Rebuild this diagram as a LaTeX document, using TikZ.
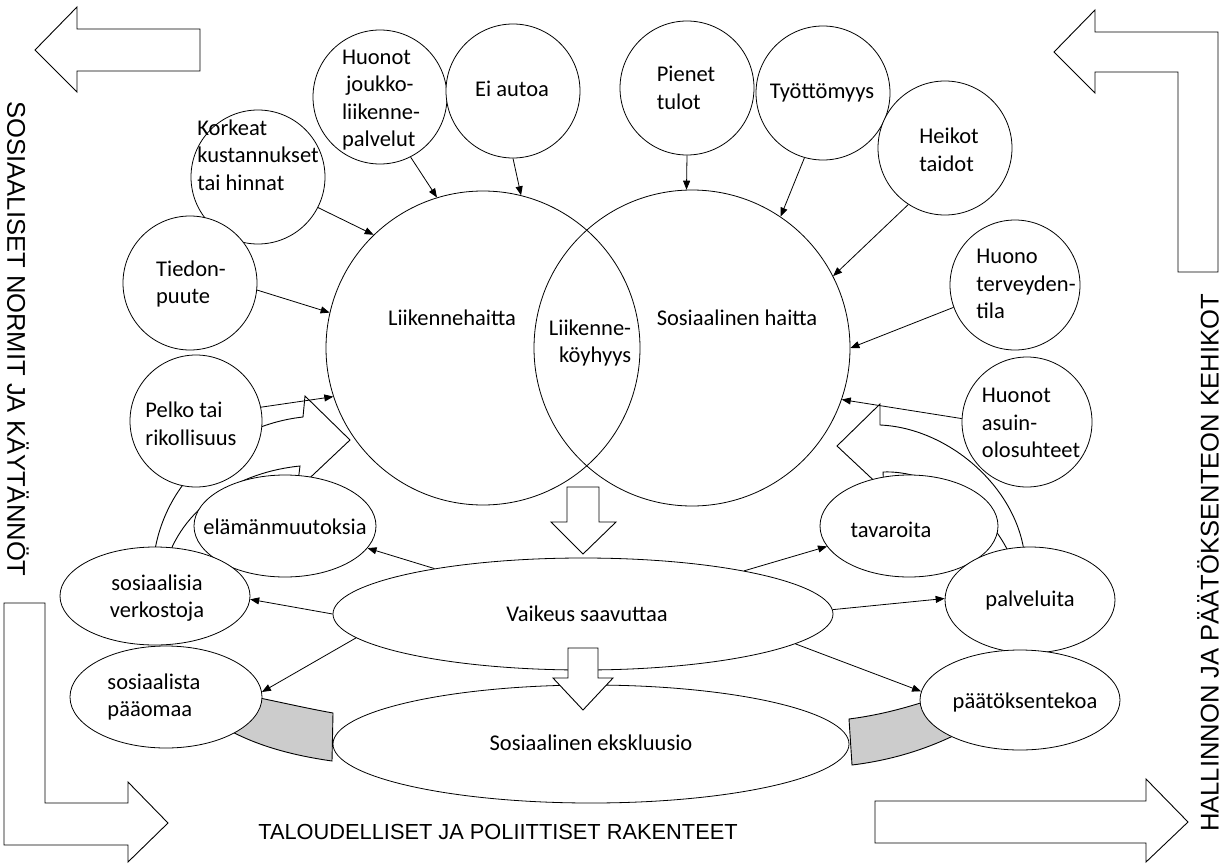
\documentclass[tikz,border=0pt]{standalone}
\usepackage{fontspec}
\setmainfont{Carlito}
\newfontfamily\framefont{Liberation Sans}
\usetikzlibrary{arrows.meta,shapes.geometric}
\begin{document}
\begin{tikzpicture}[x=1pt,y=-1pt,
  bub/.style={circle, draw, fill=white, inner sep=0pt, minimum size=#1, line width=0.8pt},
  big/.style={circle, draw, inner sep=0pt, minimum size=#1, line width=0.8pt},
  ell/.style 2 args={ellipse, draw, fill=white, inner sep=0pt, minimum width=#1, minimum height=#2, line width=0.8pt},
  txt/.style={font=\fontsize{22.5}{27.5}\selectfont, align=left, inner sep=0pt},
  ctxt/.style={font=\fontsize{22.5}{27.5}\selectfont, align=center, inner sep=0pt},
  rtxt/.style={font=\fontsize{22.5}{27.5}\selectfont, align=right, inner sep=0pt},
  conn/.style={-{Triangle[length=9pt,width=7pt]}, line width=0.8pt},
  blk/.style={draw, fill=white, line width=0.9pt, line join=miter},
  grayblk/.style={draw, fill=black!20, line width=0.9pt},
  frametxt/.style={font=\framefont\fontsize{25.6}{30}\selectfont, inner sep=0pt},
  bottomtxt/.style={font=\framefont\fontsize{21.8}{26}\selectfont, inner sep=0pt}
]
\useasboundingbox (0,0) rectangle (1225,864);
\fill[white] (0,0) rectangle (1225,864);

% frame arrows
\draw[blk] (35,50) -- (77,7) -- (77,29) -- (200,29) -- (200,71) -- (77,71) -- (77,92) -- cycle;
\draw[blk] (1054,52) -- (1095,10) -- (1095,32) -- (1218,32) -- (1218,272) -- (1178,272) -- (1178,72) -- (1095,72) -- (1095,93) -- cycle;
\draw[blk] (4,603) -- (45,603) -- (45,803) -- (128,803) -- (128,782) -- (168,823) -- (128,862) -- (128,845) -- (4,845) -- cycle;
\draw[blk] (875,801) -- (1146,801) -- (1146,779) -- (1188,822) -- (1146,862) -- (1146,843) -- (875,843) -- cycle;

\node[frametxt, rotate=-90] (normit) at (18,339) {SOSIAALISET NORMIT JA KÄYTÄNNÖT};
\node[frametxt, rotate=90] (hallinnon) at (1208,563) {HALLINNON JA PÄÄTÖKSENTEON KEHIKOT};
\node[bottomtxt] (rakenteet) at (498,832) {TALOUDELLISET JA POLIITTISET RAKENTEET};

% gray connectors
\draw[grayblk] (245,695) .. controls (280,702) and (305,708) .. (333,713) -- (332,761) .. controls (290,755) and (255,745) .. (225,728) -- cycle;
\draw[grayblk] (849,719) .. controls (880,715) and (905,708) .. (930,700) -- (955,735) .. controls (920,752) and (885,761) .. (852,765) -- cycle;

% curved arrows
\draw[blk] (153,565) .. controls (160,480) and (230,425) .. (303,417) -- (305,396) -- (350,440) -- (297,490) -- (300,466) .. controls (240,472) and (185,505) .. (167,560) -- cycle;
\draw[blk] (1025,560) .. controls (1020,490) and (950,428) .. (880,425) -- (880,404) -- (837,446) -- (884,490) -- (883,472) .. controls (930,470) and (990,505) .. (1012,560) -- cycle;

% big circles
\node[big=314pt] (lh) at (483,348) {};
\node[big=316pt] (sh) at (692,348) {};
\node[ctxt] (lhT) at (452,318) {Liikennehaitta};
\node[ctxt] (shT) at (737,318) {Sosiaalinen haitta};
\node[rtxt] (lensT) at (590,343) {Liikenne-\\köyhyys};

% small circles
\node[bub=134pt] (korkeat) at (258,177) {};
\node[txt] (korkeatT) at (258,155) {Korkeat\\kustannukset\\tai hinnat};
\node[bub=134pt] (joukko) at (380,97) {};
\node[txt] (joukkoT) at (381,100) {Huonot\\\hspace*{4pt}joukko-\\liikenne-\\palvelut};
\node[bub=134pt] (eiauto) at (513,91) {};
\node[txt] (eiautoT) at (512,89) {Ei autoa};
\node[bub=134pt] (pienet) at (687,88) {};
\node[txt] (pienetT) at (686,88) {Pienet\\tulot};
\node[bub=134pt] (tyott) at (823,93) {};
\node[txt] (tyottT) at (822,93) {Työttömyys};
\node[bub=134pt] (heikot) at (945,148) {};
\node[txt] (heikotT) at (949,150) {Heikot\\taidot};
\node[bub=134pt] (tiedon) at (190,283) {};
\node[txt] (tiedonT) at (191,284) {Tiedon-\\puute};
\node[bub=132pt] (pelko) at (196,421) {};
\node[txt] (pelkoT) at (191,424) {Pelko tai\\rikollisuus};
\node[bub=130pt] (terv) at (1015,285) {};
\node[txt] (tervT) at (1026,284) {Huono\\terveyden-\\tila};
\node[bub=130pt] (asuin) at (1027,422) {};
\node[txt] (asuinT) at (1031,423) {Huonot\\asuin-\\olosuhteet};

% ellipses
\node[ell={182pt}{102pt}] (elam) at (285,526) {};
\node[ctxt] (elamT) at (285,527) {elämänmuutoksia};
\node[ell={178pt}{102pt}] (tav) at (909,526) {};
\node[ctxt] (tavT) at (891,530) {tavaroita};
\node[ell={190pt}{98pt}] (sv) at (155,596) {};
\node[ctxt] (svT) at (157,598) {sosiaalisia\\verkostoja};
\node[ell={192pt}{102pt}] (sp) at (166,697) {};
\node[txt] (spT) at (154,697) {sosiaalista\\pääomaa};
\node[ell={170pt}{106pt}] (pal) at (1030,600) {};
\node[ctxt] (palT) at (1030,600) {palveluita};
\node[ell={200pt}{100pt}] (pk) at (1020,700) {};
\node[ctxt] (pkT) at (1025,702) {päätöksentekoa};
\node[ell={500pt}{112pt}] (vaik) at (583,614) {};
\node[ctxt] (vaikT) at (587,614) {Vaikeus saavuttaa};
\node[ell={516pt}{118pt}] (eks) at (591,744) {};
\node[ctxt] (eksT) at (591,743) {Sosiaalinen ekskluusio};

% down arrows
\draw[blk] (567,487) -- (599,487) -- (599,522) -- (616,522) -- (583,554) -- (551,522) -- (567,522) -- cycle;
\draw[blk] (568,648) -- (598,648) -- (598,678) -- (613,678) -- (583,710) -- (553,678) -- (568,678) -- cycle;

% connectors into big circles
\draw[conn] (korkeat.-27) -- (lh.134);
\draw[conn] (joukko.-63) -- (lh.107);
\draw[conn] (eiauto.-90) -- (lh.76);
\draw[conn] (tiedon.-6) -- (lh.167);
\draw[conn] (pelko.12) -- (lh.198);
\draw[conn] (pienet.-90) -- (sh.92);
\draw[conn] (tyott.-106) -- (sh.56);
\draw[conn] (heikot.-123) -- (sh.27);
\draw[conn] (terv.200) -- (sh.0);
\draw[conn] (asuin.177) -- (sh.-19);

% connectors from Vaikeus saavuttaa
\draw[conn] (vaik.163) -- (elam.-15);
\draw[conn] (vaik.180) -- (sv.-2);
\draw[conn] (vaik.186) -- (sp.3);
\draw[conn] (vaik.15) -- (tav.194);
\draw[conn] (vaik.1) -- (pal.179);
\draw[conn] (vaik.-8) -- (pk.175);
\end{tikzpicture}
\end{document}
